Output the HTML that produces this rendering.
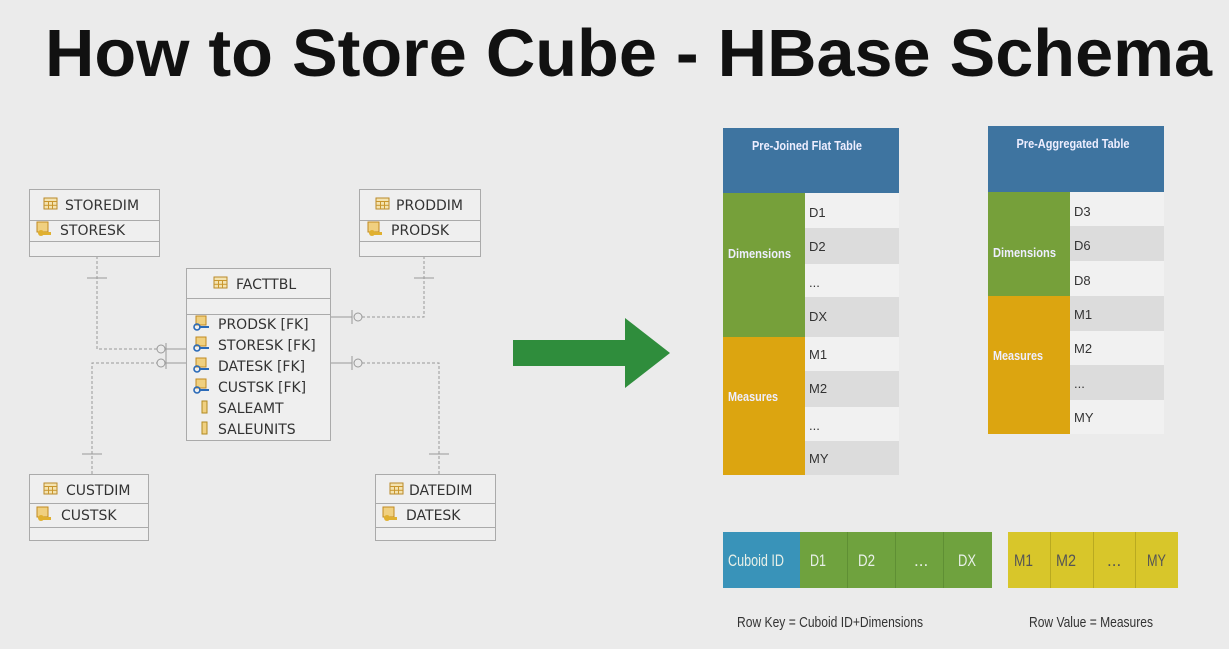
<!DOCTYPE html>
<html><head><meta charset="utf-8"><style>
html,body{margin:0;padding:0;background:#ebebeb;}
svg{display:block;}
.er{font-family:"DejaVu Sans","Liberation Sans",sans-serif;font-size:14px;fill:#333;}
.n{font-family:"Liberation Sans",sans-serif;font-size:13px;fill:#333;}
.w{font-family:"Liberation Sans",sans-serif;font-size:13px;fill:#eef;}
</style></head><body>
<svg width="1229" height="649" viewBox="0 0 1229 649" xmlns="http://www.w3.org/2000/svg">
<rect width="1229" height="649" fill="#ebebeb"/>
<text x="45" y="76" font-family="Liberation Sans, sans-serif" font-weight="bold" font-size="67" fill="#111" textLength="1167" lengthAdjust="spacingAndGlyphs">How to Store Cube - HBase Schema</text>

<defs>
<g id="tbl"><rect x="0" y="0" width="13" height="11" fill="#f4e3b0" stroke="#b98a2a"/><line x1="0" y1="3.5" x2="13" y2="3.5" stroke="#c9962e"/><line x1="4.5" y1="3" x2="4.5" y2="11" stroke="#c9962e"/><line x1="8.5" y1="3" x2="8.5" y2="11" stroke="#c9962e"/><line x1="0" y1="7.3" x2="13" y2="7.3" stroke="#c9962e"/></g>
<g id="pk"><rect x="0" y="0" width="11" height="10" fill="#f0d080" stroke="#c08a20"/><circle cx="4" cy="11" r="3" fill="#e0b030"/><rect x="4" y="10" width="10" height="3" fill="#e0b030"/></g>
<g id="fk"><rect x="2" y="0" width="10" height="9" fill="#f0d080" stroke="#c08a20"/><circle cx="3" cy="11" r="3" fill="none" stroke="#2a6ab8" stroke-width="1.6"/><rect x="5" y="10" width="10" height="2" fill="#2a6ab8"/></g>
<g id="col"><rect x="0" y="0" width="5" height="12" fill="#f0d080" stroke="#b08a20"/></g>
</defs>

<g stroke="#999" fill="none" stroke-width="1">
<path d="M97 256 V349 H157" stroke-dasharray="3,2"/>
<path d="M92 474 V363 H157" stroke-dasharray="3,2"/>
<path d="M424 256 V317 H362" stroke-dasharray="3,2"/>
<path d="M439 474 V363 H362" stroke-dasharray="3,2"/>
<line x1="87" y1="278" x2="107" y2="278"/>
<line x1="414" y1="278" x2="434" y2="278"/>
<line x1="82" y1="454" x2="102" y2="454"/>
<line x1="429" y1="454" x2="449" y2="454"/>
<circle cx="161" cy="349" r="4"/><circle cx="161" cy="363" r="4"/>
<line x1="166" y1="343" x2="166" y2="369"/><line x1="166" y1="349" x2="186" y2="349"/><line x1="166" y1="363" x2="186" y2="363"/>
<circle cx="358" cy="317" r="4"/><circle cx="358" cy="363" r="4"/>
<line x1="352" y1="310" x2="352" y2="324"/><line x1="352" y1="356" x2="352" y2="370"/>
<line x1="330" y1="317" x2="352" y2="317"/><line x1="330" y1="363" x2="352" y2="363"/>
</g>

<g stroke="#aaa" fill="#efefef">
<rect x="29.5" y="189.5" width="130" height="67"/><line x1="29" y1="220.5" x2="159" y2="220.5"/><line x1="29" y1="241.5" x2="159" y2="241.5"/>
<rect x="359.5" y="189.5" width="121" height="67"/><line x1="359" y1="220.5" x2="480" y2="220.5"/><line x1="359" y1="241.5" x2="480" y2="241.5"/>
<rect x="29.5" y="474.5" width="119" height="66"/><line x1="29" y1="503.5" x2="148" y2="503.5"/><line x1="29" y1="527.5" x2="148" y2="527.5"/>
<rect x="375.5" y="474.5" width="120" height="66"/><line x1="375" y1="503.5" x2="495" y2="503.5"/><line x1="375" y1="527.5" x2="495" y2="527.5"/>
<rect x="186.5" y="268.5" width="144" height="172"/><line x1="186" y1="298.5" x2="330" y2="298.5"/><line x1="186" y1="314.5" x2="330" y2="314.5"/>
</g>
<use href="#tbl" x="44" y="198"/><text class="er" x="65" y="210">STOREDIM</text>
<use href="#pk" x="37" y="222"/><text class="er" x="60" y="235">STORESK</text>
<use href="#tbl" x="376" y="198"/><text class="er" x="396" y="210">PRODDIM</text>
<use href="#pk" x="368" y="222"/><text class="er" x="391" y="235">PRODSK</text>
<use href="#tbl" x="44" y="483"/><text class="er" x="66" y="495">CUSTDIM</text>
<use href="#pk" x="37" y="507"/><text class="er" x="61" y="520">CUSTSK</text>
<use href="#tbl" x="390" y="483"/><text class="er" x="409" y="495">DATEDIM</text>
<use href="#pk" x="383" y="507"/><text class="er" x="406" y="520">DATESK</text>
<use href="#tbl" x="214" y="277"/><text class="er" x="236" y="289">FACTTBL</text>
<use href="#fk" x="194" y="316"/><text class="er" x="218" y="329">PRODSK [FK]</text>
<use href="#fk" x="194" y="337"/><text class="er" x="218" y="350">STORESK [FK]</text>
<use href="#fk" x="194" y="358"/><text class="er" x="218" y="371">DATESK [FK]</text>
<use href="#fk" x="194" y="379"/><text class="er" x="218" y="392">CUSTSK [FK]</text>
<use href="#col" x="202" y="401"/><text class="er" x="218" y="413">SALEAMT</text>
<use href="#col" x="202" y="422"/><text class="er" x="218" y="434">SALEUNITS</text>

<polygon points="513,340 625,340 625,318 670,353 625,388 625,366 513,366" fill="#2f8d3c"/>

<rect x="723" y="128" width="176" height="65" fill="#3e74a0"/>
<text x="807" y="150" text-anchor="middle" class="w" font-weight="bold" textLength="110" lengthAdjust="spacingAndGlyphs">Pre-Joined Flat Table</text>
<rect x="723" y="193" width="82" height="144" fill="#76a03a"/>
<rect x="723" y="337" width="82" height="138" fill="#dca510"/>
<text x="728" y="258" class="w" font-weight="bold" font-size="14" textLength="63" lengthAdjust="spacingAndGlyphs">Dimensions</text>
<text x="728" y="401" class="w" font-weight="bold" font-size="14" textLength="50" lengthAdjust="spacingAndGlyphs">Measures</text>
<rect x="805" y="193" width="94" height="35" fill="#f1f1f1"/><rect x="805" y="228" width="94" height="36" fill="#dcdcdc"/>
<rect x="805" y="264" width="94" height="33" fill="#f1f1f1"/><rect x="805" y="297" width="94" height="40" fill="#dcdcdc"/>
<rect x="805" y="337" width="94" height="34" fill="#f1f1f1"/><rect x="805" y="371" width="94" height="36" fill="#dcdcdc"/>
<rect x="805" y="407" width="94" height="34" fill="#f1f1f1"/><rect x="805" y="441" width="94" height="34" fill="#dcdcdc"/>
<text class="n" x="809" y="217">D1</text><text class="n" x="809" y="251">D2</text><text class="n" x="809" y="287">...</text><text class="n" x="809" y="321">DX</text>
<text class="n" x="809" y="359">M1</text><text class="n" x="809" y="393">M2</text><text class="n" x="809" y="430">...</text><text class="n" x="809" y="463">MY</text>

<rect x="988" y="126" width="176" height="66" fill="#3e74a0"/>
<text x="1073" y="148" text-anchor="middle" class="w" font-weight="bold" textLength="113" lengthAdjust="spacingAndGlyphs">Pre-Aggregated Table</text>
<rect x="988" y="192" width="82" height="104" fill="#76a03a"/>
<rect x="988" y="296" width="82" height="138" fill="#dca510"/>
<text x="993" y="257" class="w" font-weight="bold" font-size="14" textLength="63" lengthAdjust="spacingAndGlyphs">Dimensions</text>
<text x="993" y="360" class="w" font-weight="bold" font-size="14" textLength="50" lengthAdjust="spacingAndGlyphs">Measures</text>
<rect x="1070" y="192" width="94" height="34" fill="#f1f1f1"/><rect x="1070" y="226" width="94" height="35" fill="#dcdcdc"/>
<rect x="1070" y="261" width="94" height="35" fill="#f1f1f1"/><rect x="1070" y="296" width="94" height="35" fill="#dcdcdc"/>
<rect x="1070" y="331" width="94" height="34" fill="#f1f1f1"/><rect x="1070" y="365" width="94" height="35" fill="#dcdcdc"/>
<rect x="1070" y="400" width="94" height="34" fill="#f1f1f1"/>
<text class="n" x="1074" y="216">D3</text><text class="n" x="1074" y="250">D6</text><text class="n" x="1074" y="285">D8</text>
<text class="n" x="1074" y="319">M1</text><text class="n" x="1074" y="353">M2</text><text class="n" x="1074" y="388">...</text><text class="n" x="1074" y="422">MY</text>

<rect x="723" y="532" width="77" height="56" fill="#3993b9"/>
<rect x="800" y="532" width="192" height="56" fill="#6fa23e"/>
<g stroke="#5f8f34"><line x1="847.5" y1="532" x2="847.5" y2="588"/><line x1="895.5" y1="532" x2="895.5" y2="588"/><line x1="943.5" y1="532" x2="943.5" y2="588"/></g>
<g font-family="Liberation Sans, sans-serif" font-size="17" fill="#e8f0e8">
<text x="728" y="566" textLength="56" lengthAdjust="spacingAndGlyphs">Cuboid ID</text>
<text x="810" y="566" textLength="16" lengthAdjust="spacingAndGlyphs">D1</text><text x="858" y="566" textLength="17" lengthAdjust="spacingAndGlyphs">D2</text><text x="914" y="566">...</text><text x="958" y="566" textLength="18" lengthAdjust="spacingAndGlyphs">DX</text>
</g>
<rect x="1008" y="532" width="170" height="56" fill="#d8c62a"/>
<g stroke="#b9aa20"><line x1="1050.5" y1="532" x2="1050.5" y2="588"/><line x1="1093.5" y1="532" x2="1093.5" y2="588"/><line x1="1135.5" y1="532" x2="1135.5" y2="588"/></g>
<g font-family="Liberation Sans, sans-serif" font-size="17" fill="#555">
<text x="1014" y="566" textLength="19" lengthAdjust="spacingAndGlyphs">M1</text><text x="1056" y="566" textLength="20" lengthAdjust="spacingAndGlyphs">M2</text><text x="1107" y="566">...</text><text x="1147" y="566" textLength="19" lengthAdjust="spacingAndGlyphs">MY</text>
</g>
<text x="737" y="627" font-family="Liberation Sans, sans-serif" font-size="15" fill="#333" textLength="186" lengthAdjust="spacingAndGlyphs">Row Key = Cuboid ID+Dimensions</text>
<text x="1029" y="627" font-family="Liberation Sans, sans-serif" font-size="15" fill="#333" textLength="124" lengthAdjust="spacingAndGlyphs">Row Value = Measures</text>
</svg>
</body></html>
